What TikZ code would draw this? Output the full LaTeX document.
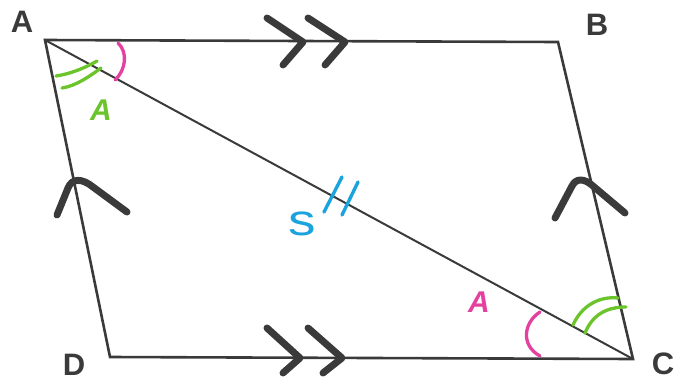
\documentclass[tikz,border=0pt]{standalone}
\usepackage{fontspec}
\setmainfont{Liberation Sans}
\definecolor{dark}{HTML}{3A3A3A}
\definecolor{mgreen}{HTML}{6BC42A}
\definecolor{mpink}{HTML}{E4409F}
\definecolor{mblue}{HTML}{1BA3DD}
\begin{document}
\begin{tikzpicture}[x=1pt,y=-1pt,
  side/.style={draw=dark, line width=2.6pt, line join=miter},
  diag/.style={draw=dark, line width=2pt},
  chev/.style={draw=dark, line width=7pt, line cap=round, line join=round},
  gmark/.style={draw=mgreen, line width=3.3pt, line cap=round},
  pmark/.style={draw=mpink, line width=3.3pt, line cap=round},
  bmark/.style={draw=mblue, line width=3.4pt, line cap=round},
  vlabel/.style={font=\fontsize{31}{31}\selectfont\bfseries, text=dark, inner sep=0pt},
  hlabel/.style={font=\fontsize{30}{30}\selectfont\bfseries\itshape, inner sep=0pt}]
\useasboundingbox (0,0) rectangle (686,381);
% vertices
\coordinate (A) at (45,40);
\coordinate (B) at (558,42);
\coordinate (C) at (633,359);
\coordinate (D) at (110,357);
% sides and diagonal
\draw[side] (A) -- (B) -- (C) -- (D) -- cycle;
\draw[diag] (A) -- (C);
% vertex labels
\node[vlabel] (lA) at (22,22) {A};
\node[vlabel] (lB) at (597,25) {B};
\node[vlabel] (lC) at (663,364) {C};
\node[vlabel] (lD) at (74,365) {D};
% double chevrons on AB and DC
\draw[chev] (267,18) -- (303,42) -- (283,65);
\draw[chev] (308,18) -- (345,42) -- (325,65);
\draw[chev] (267,328) -- (300,358) -- (283,373);
\draw[chev] (308,328) -- (342,358) -- (323,373);
% single chevrons on AD and BC
\draw[chev] (57,215) -- (68,188) .. controls (72,178) and (82,178) .. (93,187) -- (127,212);
\draw[chev] (555,218) -- (572,186) .. controls (576,178) and (584,178) .. (593,186) -- (625,213);
% green double arcs
\draw[gmark] (56,76) .. controls (70,74) and (85,68) .. (97,61);
\draw[gmark] (62,88) .. controls (76,86) and (90,76) .. (101,68);
\draw[gmark] (573,325) .. controls (582,305) and (600,296) .. (618,298);
\draw[gmark] (585,333) .. controls (592,316) and (605,307) .. (626,307);
% pink arcs
\draw[pmark] (118,43) .. controls (128,52) and (126,70) .. (115,80);
\draw[pmark] (540,312) .. controls (524,322) and (520,345) .. (540,356);
% blue ticks on diagonal
\draw[bmark] (342,177) -- (324,212);
\draw[bmark] (358,182) -- (342,215);
% hand labels
\node[hlabel, text=mgreen] (gA) at (101,110) {A};
\node[hlabel, text=mpink] (pA) at (479,302) {A};
\node[font=\fontsize{44}{44}\selectfont, text=mblue, inner sep=0pt, xscale=1.25] (s) at (302,224) {s};
\end{tikzpicture}
\end{document}
